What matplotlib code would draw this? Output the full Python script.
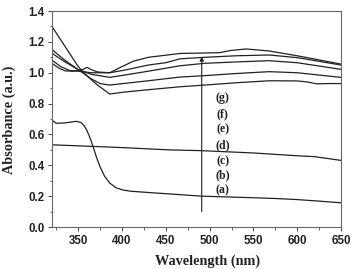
import matplotlib
matplotlib.use("Agg")
import matplotlib.pyplot as plt
from matplotlib.ticker import MultipleLocator

# ---- data ----
a_x = [320, 325, 335, 348, 353, 357, 360, 364, 367, 371, 375, 380, 386, 393, 401, 410, 420, 440, 466, 491, 520, 550, 575, 600, 625, 650]
a_y = [0.693, 0.672, 0.675, 0.685, 0.678, 0.655, 0.625, 0.57, 0.52, 0.45, 0.39, 0.33, 0.285, 0.255, 0.24, 0.232, 0.228, 0.22, 0.21, 0.20, 0.195, 0.19, 0.185, 0.178, 0.168, 0.157]

b_x = [320, 400, 454, 491, 550, 600, 620, 650]
b_y = [0.533, 0.515, 0.50, 0.495, 0.48, 0.462, 0.456, 0.432]

c_x = [320, 335, 350, 360, 372, 386, 403, 430, 466, 494, 530, 568, 600, 612, 622, 635, 650]
c_y = [1.30, 1.17, 1.04, 0.98, 0.92, 0.862, 0.875, 0.89, 0.909, 0.92, 0.935, 0.948, 0.947, 0.94, 0.928, 0.93, 0.93]

d_x = [320, 335, 350, 365, 375, 386, 403, 430, 466, 494, 530, 568, 600, 625, 650]
d_y = [1.15, 1.08, 1.02, 0.96, 0.93, 0.92, 0.931, 0.948, 0.972, 0.981, 0.995, 1.007, 1.0, 0.985, 0.97]

e_x = [320, 335, 350, 365, 386, 403, 430, 466, 494, 530, 568, 600, 650]
e_y = [1.126, 1.07, 1.02, 0.99, 0.97, 0.985, 1.01, 1.045, 1.061, 1.07, 1.078, 1.065, 1.022]

f_x = [320, 330, 340, 350, 365, 386, 403, 430, 450, 466, 494, 530, 568, 600, 650]
f_y = [1.082, 1.04, 1.015, 1.01, 1.0, 1.0, 1.017, 1.05, 1.065, 1.09, 1.10, 1.11, 1.115, 1.098, 1.05]

g_x = [320, 328, 335, 345, 355, 360, 365, 372, 386, 400, 413, 430, 466, 494, 511, 525, 542, 568, 600, 650]
g_y = [1.061, 1.03, 1.012, 1.01, 1.02, 1.035, 1.02, 1.005, 1.0, 1.04, 1.075, 1.10, 1.125, 1.128, 1.13, 1.145, 1.154, 1.141, 1.11, 1.056]

labels = ["(a)", "(b)", "(c)", "(d)", "(e)", "(f)", "(g)"]
label_y = [0.238, 0.333, 0.423, 0.527, 0.633, 0.732, 0.834]
label_x = 515
arrow_x = 491
arrow_y = [0.1, 1.105]

xticks = [350, 400, 450, 500, 550, 600, 650]
yticks = [0.0, 0.2, 0.4, 0.6, 0.8, 1.0, 1.2, 1.4]

# ---- plot ----
fig = plt.figure(figsize=(3.51, 2.69), dpi=100)
ax = fig.add_axes([0.148, 0.156, 0.8235, 0.803])

lc = "#222222"
for xs, ys in [(a_x, a_y), (b_x, b_y), (c_x, c_y), (d_x, d_y), (e_x, e_y), (f_x, f_y), (g_x, g_y)]:
    ax.plot(xs, ys, color=lc, lw=0.9)

ax.annotate("", xy=(arrow_x, arrow_y[1]), xytext=(arrow_x, arrow_y[0]),
            arrowprops=dict(arrowstyle="-|>", lw=0.8, color=lc, mutation_scale=6,
                            shrinkA=0, shrinkB=0))

for t, yv in zip(labels, label_y):
    ax.text(label_x, yv, t, ha="center", va="center", fontsize=8.5,
            family="Liberation Serif", fontweight="bold", color="#222222")

ax.set_xlim(320, 650)
ax.set_ylim(0.0, 1.4)
ax.set_xticks(xticks)
ax.set_yticks(yticks)
ax.xaxis.set_minor_locator(MultipleLocator(25))
ax.yaxis.set_minor_locator(MultipleLocator(0.1))
ax.set_yticklabels([f"{v:.1f}" for v in yticks])
ax.tick_params(which="major", direction="out", length=3, width=0.7, colors="#444444",
               labelsize=8.3, pad=2.5, labelcolor="#222222")
ax.tick_params(which="minor", direction="out", length=1.8, width=0.6, colors="#444444")
for lab in ax.get_xticklabels() + ax.get_yticklabels():
    lab.set_family("Liberation Sans")
    lab.set_fontweight("bold")

for s in ax.spines.values():
    s.set_color("#666666")
    s.set_linewidth(0.8)

fig.text(208 / 351, 4 / 269, "Wavelength (nm)", fontsize=10.3, family="Liberation Serif",
         fontweight="bold", ha="center", va="baseline", color="#222222")
fig.text(9 / 351, 1 - 120 / 269, "Absorbance (a.u.)", fontsize=10.3, family="Liberation Serif",
         fontweight="bold", ha="center", va="center", rotation=90, color="#222222")

fig.savefig("out.png", dpi=100)
